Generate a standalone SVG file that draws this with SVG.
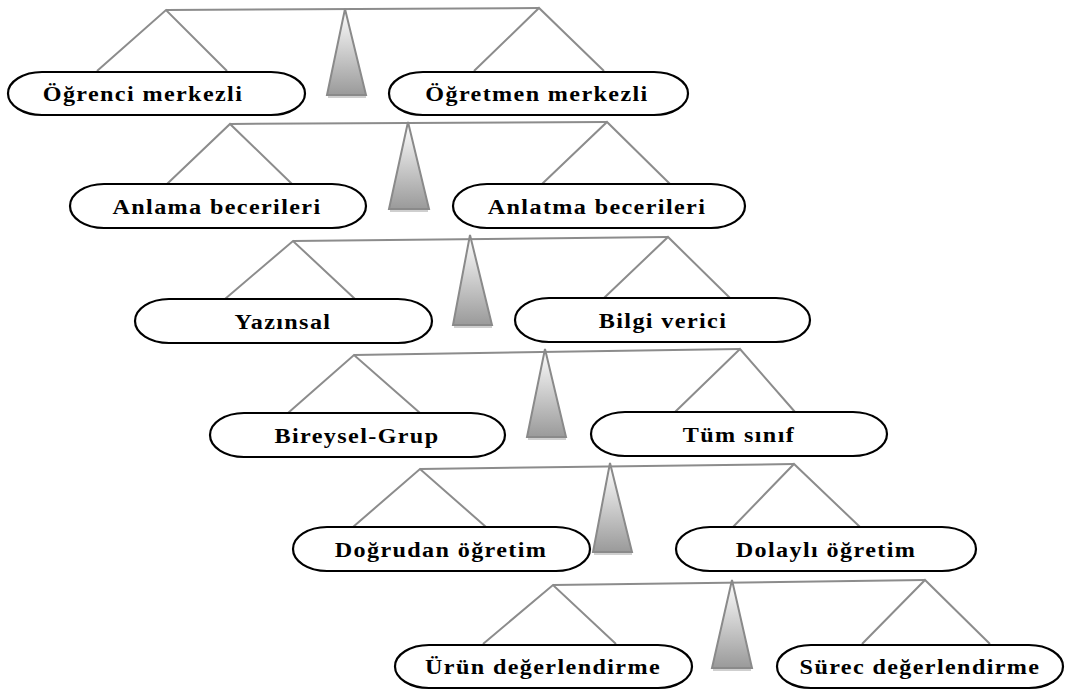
<svg xmlns="http://www.w3.org/2000/svg" width="1066" height="691" viewBox="0 0 1066 691">
  <defs>
    <linearGradient id="coneFill" x1="0" y1="0" x2="0" y2="1">
      <stop offset="0" stop-color="#ffffff"/>
      <stop offset="1" stop-color="#9a9a9a"/>
    </linearGradient>
    <style>
      .beam { fill: none; stroke: #8c8c8c; stroke-width: 2; }
      .cone { fill: url(#coneFill); stroke: #8a8a8a; stroke-width: 2; stroke-linejoin: miter; }
      .shadow { fill: #cfcfcf; }
      .pill { fill: #ffffff; stroke: #000000; stroke-width: 2.2; }
      .lbl { font-family: "Liberation Serif", "Times New Roman", serif; font-weight: bold; font-size: 21px; letter-spacing: 1.2px; text-anchor: middle; fill: #000; }
    </style>
  </defs>
  <rect width="1066" height="691" fill="#ffffff"/>

  <!-- balance beams, legs and pivots -->
  <g id="connectors">
    <!-- level 1 -->
    <polyline class="beam" points="97,71 166,10 227,71"/>
    <polyline class="beam" points="474,71 539,8 604,71"/>
    <line class="beam" x1="166" y1="10" x2="539" y2="8"/>
    <rect class="shadow" x="328" y="95" width="38" height="3"/>
    <polygon class="cone" points="345,9 327,95 366,95"/>
    <!-- level 2 -->
    <polyline class="beam" points="167,184 230,124 292,184"/>
    <polyline class="beam" points="542,184 607,122 670,184"/>
    <line class="beam" x1="230" y1="124" x2="607" y2="122"/>
    <rect class="shadow" x="390" y="209" width="38" height="3"/>
    <polygon class="cone" points="408,122 389,209 429,209"/>
    <!-- level 3 -->
    <polyline class="beam" points="225,299 293,241 355,299"/>
    <polyline class="beam" points="604,298 668,237 730,298"/>
    <line class="beam" x1="293" y1="241" x2="668" y2="237"/>
    <rect class="shadow" x="454" y="325" width="38" height="3"/>
    <polygon class="cone" points="470,235 453,325 492,325"/>
    <!-- level 4 -->
    <polyline class="beam" points="288,413 354,355 420,413"/>
    <polyline class="beam" points="675,412 740,349 795,412"/>
    <line class="beam" x1="354" y1="355" x2="740" y2="349"/>
    <rect class="shadow" x="528" y="437" width="38" height="3"/>
    <polygon class="cone" points="545,349 527,437 566,437"/>
    <!-- level 5 -->
    <polyline class="beam" points="353,527 420,469 486,527"/>
    <polyline class="beam" points="733,527 794,464 860,527"/>
    <line class="beam" x1="420" y1="469" x2="794" y2="464"/>
    <rect class="shadow" x="594" y="552" width="38" height="3"/>
    <polygon class="cone" points="610,463 593,552 632,552"/>
    <!-- level 6 -->
    <polyline class="beam" points="483,644 553,585 616,644"/>
    <polyline class="beam" points="862,644 925,580 990,644"/>
    <line class="beam" x1="553" y1="585" x2="925" y2="580"/>
    <rect class="shadow" x="713" y="668" width="38" height="3"/>
    <polygon class="cone" points="732,580 712,668 752,668"/>
  </g>

  <!-- level 1 -->
  <g id="ogrenci-merkezli">
    <rect class="pill" x="8" y="72" width="297" height="43" rx="34" ry="21.5"/>
    <text class="lbl" transform="translate(143,101) scale(1.15,1)">Öğrenci merkezli</text>
  </g>
  <g id="ogretmen-merkezli">
    <rect class="pill" x="389" y="72" width="299" height="43" rx="34" ry="21.5"/>
    <text class="lbl" transform="translate(537,101) scale(1.15,1)">Öğretmen merkezli</text>
  </g>

  <!-- level 2 -->
  <g id="anlama-becerileri">
    <rect class="pill" x="70" y="184" width="296" height="44" rx="34" ry="22"/>
    <text class="lbl" transform="translate(217,213.5) scale(1.15,1)">Anlama becerileri</text>
  </g>
  <g id="anlatma-becerileri">
    <rect class="pill" x="453" y="184" width="292" height="44" rx="34" ry="22"/>
    <text class="lbl" transform="translate(597,213.5) scale(1.15,1)">Anlatma becerileri</text>
  </g>

  <!-- level 3 -->
  <g id="yazinsal">
    <rect class="pill" x="135" y="299" width="297" height="44" rx="34" ry="22"/>
    <text class="lbl" transform="translate(283,328.5) scale(1.15,1)">Yazınsal</text>
  </g>
  <g id="bilgi-verici">
    <rect class="pill" x="515" y="298" width="295" height="44" rx="34" ry="22"/>
    <text class="lbl" transform="translate(663,327.5) scale(1.15,1)">Bilgi verici</text>
  </g>

  <!-- level 4 -->
  <g id="bireysel-grup">
    <rect class="pill" x="210" y="413" width="295" height="44" rx="34" ry="22"/>
    <text class="lbl" transform="translate(357,442.5) scale(1.15,1)">Bireysel-Grup</text>
  </g>
  <g id="tum-sinif">
    <rect class="pill" x="591" y="412" width="296" height="44" rx="34" ry="22"/>
    <text class="lbl" transform="translate(739,441.5) scale(1.15,1)">Tüm sınıf</text>
  </g>

  <!-- level 5 -->
  <g id="dogrudan-ogretim">
    <rect class="pill" x="293" y="527" width="297" height="44" rx="34" ry="22"/>
    <text class="lbl" transform="translate(441,556.5) scale(1.15,1)">Doğrudan öğretim</text>
  </g>
  <g id="dolayli-ogretim">
    <rect class="pill" x="676" y="527" width="300" height="44" rx="34" ry="22"/>
    <text class="lbl" transform="translate(826,556.5) scale(1.15,1)">Dolaylı öğretim</text>
  </g>

  <!-- level 6 -->
  <g id="urun-degerlendirme">
    <rect class="pill" x="395" y="645" width="297" height="43" rx="34" ry="21.5"/>
    <text class="lbl" transform="translate(543,674) scale(1.15,1)">Ürün değerlendirme</text>
  </g>
  <g id="surec-degerlendirme">
    <rect class="pill" x="777" y="645" width="286" height="43" rx="34" ry="21.5"/>
    <text class="lbl" transform="translate(920,674) scale(1.15,1)">Sürec değerlendirme</text>
  </g>
</svg>
